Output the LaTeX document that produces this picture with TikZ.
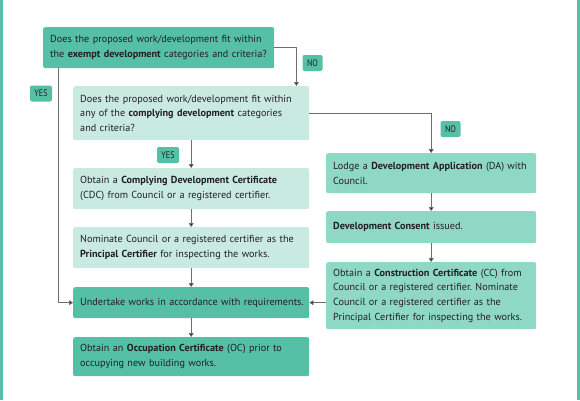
\documentclass[tikz,border=0pt]{standalone}
\usepackage{fontspec}
\setmainfont{PT Sans}
\usetikzlibrary{calc,arrows.meta}

\definecolor{tealdark}{HTML}{55C0A6}
\definecolor{tealmid}{HTML}{8FD8C6}
\definecolor{teallight}{HTML}{C8EAE1}
\definecolor{inkgray}{HTML}{231F20}
\definecolor{linegray}{HTML}{6E6E6E}

\begin{document}
\frenchspacing
\begin{tikzpicture}[x=1pt,y=-1pt,
  box/.style={anchor=north west, rounded corners=2pt, inner xsep=7pt, inner ysep=0pt,
    align=left, text=inkgray, font=\fontsize{10.2}{14.6}\selectfont},
  answer/.style={fill=tealdark, rounded corners=2pt, inner sep=0pt, minimum width=20pt,
    minimum height=16pt, text=inkgray, font=\fontsize{9.5}{9.5}\selectfont},
  flow/.style={draw=linegray, line width=0.7pt, -{Triangle[width=5pt,length=4pt,fill=inkgray]}}]

% Page size and the two side bars
\useasboundingbox (0,0) rectangle (580,400);
\fill[tealdark] (0,0) rectangle (3,400);
\fill[tealdark] (577,0) rectangle (580,400);

% Questions
\node[box, fill=tealdark, text width=217pt, minimum height=41pt] (exempt) at (43,27)
  {Does the proposed work/development fit within\\the \textbf{exempt development} categories and criteria?};
\node[box, fill=teallight, text width=222pt, minimum height=54pt] (complying) at (73,86)
  {Does the proposed work/development fit within\\any of the \textbf{complying development} categories\\and criteria?};

% Left column
\node[box, fill=teallight, text width=222pt, minimum height=41pt] (cdc) at (73,168)
  {Obtain a \textbf{Complying Development Certificate}\\(CDC) from Council or a registered certifier.};
\node[box, fill=teallight, text width=222pt, minimum height=41pt] (nominate) at (73,227)
  {Nominate Council or a registered certifier as the\\\textbf{Principal Certifier} for inspecting the works.};
\node[box, fill=tealdark, text width=226pt, inner xsep=5pt, minimum height=31pt] (works) at (73,287)
  {\hspace*{2pt}Undertake works in accordance with requirements.};
\node[box, fill=tealdark, text width=222pt, minimum height=39pt] (occupation) at (73,337)
  {Obtain an \textbf{Occupation Certificate} (OC) prior to\\occupying new building works.};

% Right column
\node[box, fill=tealmid, text width=196pt, minimum height=40pt] (da) at (326,153)
  {Lodge a \textbf{Development Application} (DA) with\\Council.};
\node[box, fill=tealmid, text width=196pt, minimum height=32pt] (consent) at (326,211)
  {\textbf{Development Consent} issued.};
\node[box, fill=tealmid, text width=196pt, minimum height=67pt] (cc) at (326,262)
  {Obtain a \textbf{Construction Certificate} (CC) from\\Council or a registered certifier. Nominate\\Council or a registered certifier as the\\Principal Certifier for inspecting the works.};

% Connectors
\draw[flow] (exempt.east) -| ($(complying.north east)+(-13,0)$);
\draw[flow] ($(exempt.south west)+(15,0)$) |- (works.west);
\draw[flow] (complying.east) -| (da.north);
\draw[flow] (complying.south) -- (cdc.north);
\draw[flow] (cdc.south) -- (nominate.north);
\draw[flow] (nominate.south) -- (works.north);
\draw[flow] (works.south) -- (occupation.north);
\draw[flow] (da.south) -- (consent.north);
\draw[flow] (consent.south) -- (cc.north);
\draw[flow] (works.east -| cc.west) -- (works.east);

% Answer labels
\node[answer, minimum width=22pt] (yesexempt) at (41,93.5) {\scalebox{0.85}[1]{YES}};
\node[answer] (noexempt) at (312.5,63) {\scalebox{0.85}[1]{NO}};
\node[answer] (nocomplying) at (450.5,129) {\scalebox{0.85}[1]{NO}};
\node[answer, minimum width=22pt] (yescomplying) at (168,155) {\scalebox{0.85}[1]{YES}};

\end{tikzpicture}
\end{document}
